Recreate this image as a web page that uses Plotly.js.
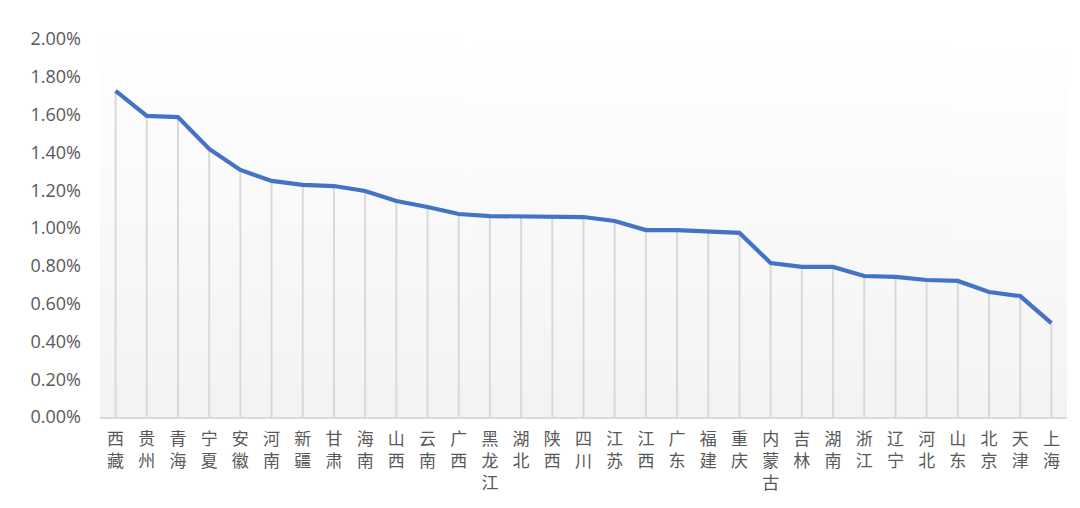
<!DOCTYPE html>
<html>
<head>
<meta charset="utf-8">
<script src="https://cdn.plot.ly/plotly-3.0.1.min.js"></script>
<style>html,body{margin:0;padding:0;background:#fff;}#chart{width:1080px;height:508px;}</style>
</head>
<body>
<div id="chart"></div>
<script>
const provinces = ['西藏','贵州','青海','宁夏','安徽','河南','新疆','甘肃','海南','山西','云南','广西','黑龙江','湖北','陕西','四川','江苏','江西','广东','福建','重庆','内蒙古','吉林','湖南','浙江','辽宁','河北','山东','北京','天津','上海'];
const values = [1.725,1.593,1.587,1.418,1.307,1.249,1.228,1.222,1.196,1.143,1.111,1.074,1.063,1.063,1.058,1.058,1.037,0.989,0.989,0.984,0.974,0.815,0.794,0.794,0.746,0.741,0.725,0.720,0.661,0.640,0.497];
const yTicks = [0,0.2,0.4,0.6,0.8,1.0,1.2,1.4,1.6,1.8,2.0];

const tickText = provinces.map(p => Array.from(p).join('<br>'));

// gradient background for plot area
const cv = document.createElement('canvas');
cv.width = 4; cv.height = 256;
const ctx = cv.getContext('2d');
const g = ctx.createLinearGradient(0,0,0,256);
g.addColorStop(0,'#ffffff');
g.addColorStop(1,'#f3f3f3');
ctx.fillStyle = g; ctx.fillRect(0,0,4,256);
const bgURL = cv.toDataURL();

const trace = {
  type:'scatter', mode:'lines',
  x: provinces, y: values,
  line:{color:'#4472C4', width:4.2},
  error_y:{type:'data', symmetric:false, array: values.map(()=>0), arrayminus: values, width:0, thickness:2, color:'#d9d9d9'},
  hoverinfo:'x+y'
};

const layout = {
  width:1080, height:508,
  margin:{l:100, r:13, t:39, b:91},
  paper_bgcolor:'#ffffff', plot_bgcolor:'rgba(0,0,0,0)',
  showlegend:false,
  images:[{source:bgURL, xref:'paper', yref:'paper', x:0, y:1, sizex:1, sizey:1, sizing:'stretch', layer:'below', xanchor:'left', yanchor:'top'}],
  xaxis:{
    type:'category', tickmode:'array', tickvals: provinces, ticktext: tickText,
    showgrid:false, zeroline:false, showline:true, linecolor:'#d9d9d9', linewidth:1.5,
    ticks:'', ticklabelstandoff:6,
    tickfont:{family:'"Noto Sans CJK SC", sans-serif', size:17, color:'#595959'},
    tickangle:0, range:[-0.5, provinces.length-0.5]
  },
  yaxis:{
    range:[0,2.0], tickmode:'array', tickvals:yTicks, ticktext: yTicks.map(v=>v.toFixed(2)+'%'),
    showgrid:false, zeroline:false, showline:false, ticks:'',
    ticklabelstandoff:18,
    tickfont:{family:'"Open Sans", sans-serif', size:18, color:'#595959'}
  }
};

Plotly.newPlot('chart',[trace],layout,{displayModeBar:false, staticPlot:true});
</script>
</body>
</html>
